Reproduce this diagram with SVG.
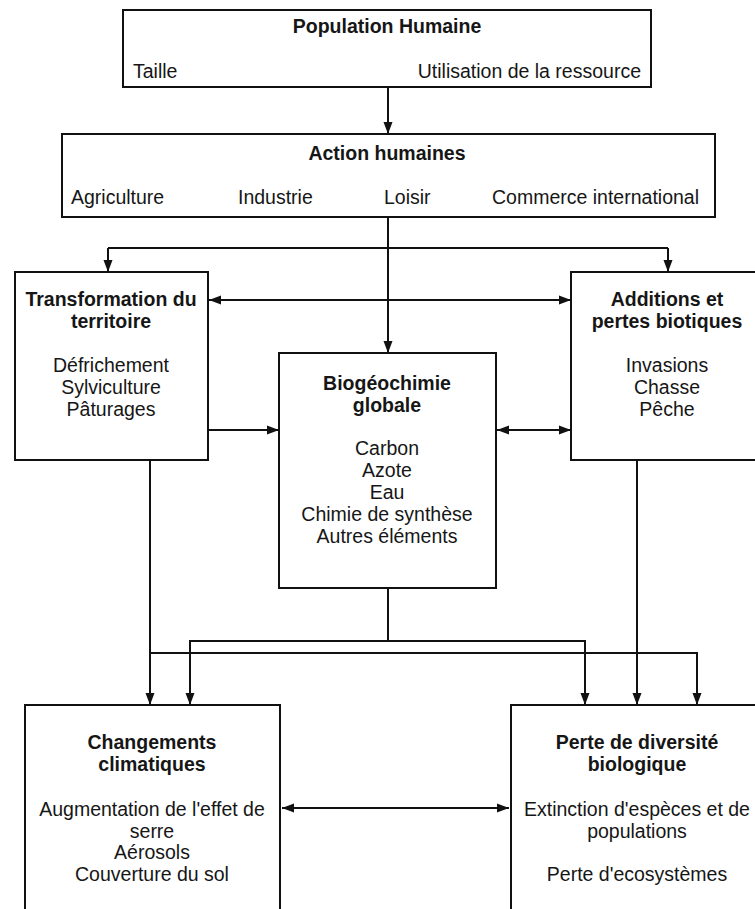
<svg xmlns="http://www.w3.org/2000/svg" width="755" height="909" viewBox="0 0 755 909">
<defs>
<marker id="arr" markerUnits="userSpaceOnUse" markerWidth="12" markerHeight="10" viewBox="0 0 12 10" refX="12" refY="5" orient="auto-start-reverse">
<path d="M0,0.5 L12,5 L0,9.5 z" fill="#111"/>
</marker>
</defs>
<style>
.box{fill:#fff;stroke:#111;stroke-width:2}
.t{font-family:"Liberation Sans",Arial,Helvetica,sans-serif;font-size:19.5px;fill:#161616}
.b{font-weight:bold}
.c{text-anchor:middle}
.e{text-anchor:end}
.ln{fill:none;stroke:#111;stroke-width:2}
.a{marker-end:url(#arr)}
.d{marker-start:url(#arr);marker-end:url(#arr)}
</style>
<rect width="755" height="909" fill="#fff"/>

<g id="connectors">
<path class="ln a" d="M388,87 V134"/>
<path class="ln a" d="M388,217 V353"/>
<path class="ln" d="M108,248 H668"/>
<path class="ln a" d="M108,248 V272"/>
<path class="ln a" d="M668,248 V272"/>
<path class="ln d" d="M209,300 H571"/>
<path class="ln a" d="M209,430 H279"/>
<path class="ln d" d="M497,430 H571"/>
<path class="ln a" d="M150,460 V705"/>
<path class="ln a" d="M150,653 H697 V705"/>
<path class="ln" d="M388,588 V641"/>
<path class="ln a" d="M388,641 H190 V705"/>
<path class="ln a" d="M388,641 H585 V705"/>
<path class="ln a" d="M637,460 V705"/>
<path class="ln d" d="M282,808 H509"/>
</g>

<g id="population">
<rect class="box" x="123" y="10" width="528" height="77"/>
<text class="t b c" x="387" y="33">Population Humaine</text>
<text class="t" x="133" y="78">Taille</text>
<text class="t e" x="641" y="78">Utilisation de la ressource</text>
</g>

<g id="action">
<rect class="box" x="62" y="134" width="653" height="83"/>
<text class="t b c" x="387" y="160">Action humaines</text>
<text class="t" x="71" y="204">Agriculture</text>
<text class="t" x="238" y="204">Industrie</text>
<text class="t" x="384" y="204">Loisir</text>
<text class="t" x="492" y="204">Commerce international</text>
</g>

<g id="transformation">
<rect class="box" x="15" y="272" width="193" height="188"/>
<text class="t b c" x="111" y="306">Transformation du</text>
<text class="t b c" x="111" y="328">territoire</text>
<text class="t c" x="111" y="372">Défrichement</text>
<text class="t c" x="111" y="394">Sylviculture</text>
<text class="t c" x="111" y="416">Pâturages</text>
</g>

<g id="additions">
<rect class="box" x="571" y="272" width="200" height="188"/>
<text class="t b c" x="667" y="306">Additions et</text>
<text class="t b c" x="667" y="328">pertes biotiques</text>
<text class="t c" x="667" y="372">Invasions</text>
<text class="t c" x="667" y="394">Chasse</text>
<text class="t c" x="667" y="416">Pêche</text>
</g>

<g id="biogeochimie">
<rect class="box" x="279" y="353" width="217" height="235"/>
<text class="t b c" x="387" y="390">Biogéochimie</text>
<text class="t b c" x="387" y="412">globale</text>
<text class="t c" x="387" y="455">Carbon</text>
<text class="t c" x="387" y="477">Azote</text>
<text class="t c" x="387" y="499">Eau</text>
<text class="t c" x="387" y="521">Chimie de synthèse</text>
<text class="t c" x="387" y="543">Autres éléments</text>
</g>

<g id="climat">
<rect class="box" x="25" y="705" width="255" height="220"/>
<text class="t b c" x="152" y="749">Changements</text>
<text class="t b c" x="152" y="771">climatiques</text>
<text class="t c" x="152" y="816">Augmentation de l'effet de</text>
<text class="t c" x="152" y="838">serre</text>
<text class="t c" x="152" y="859">Aérosols</text>
<text class="t c" x="152" y="881">Couverture du sol</text>
</g>

<g id="biodiversite">
<rect class="box" x="511" y="705" width="260" height="220"/>
<text class="t b c" x="637" y="749">Perte de diversité</text>
<text class="t b c" x="637" y="771">biologique</text>
<text class="t c" x="637" y="816">Extinction d'espèces et de</text>
<text class="t c" x="637" y="838">populations</text>
<text class="t c" x="637" y="881">Perte d'ecosystèmes</text>
</g>
</svg>
